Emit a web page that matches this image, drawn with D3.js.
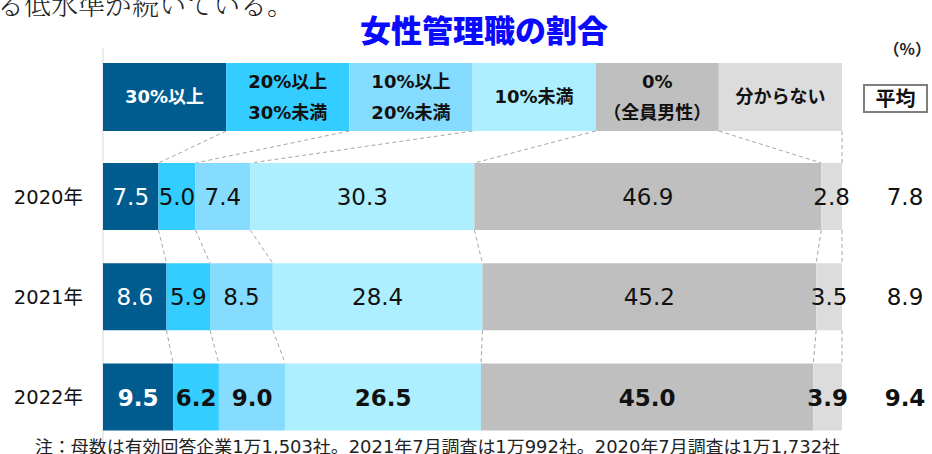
<!DOCTYPE html>
<html><head><meta charset="utf-8">
<script src="https://cdn.jsdelivr.net/npm/d3@7"></script>
<style>
html,body{margin:0;padding:0;background:#fff;}
svg{display:block;}
</style>
</head><body>
<svg id="chart" width="932" height="454"></svg>
<script>
const years = ["2020年", "2021年", "2022年"];
const categories = ["30%以上", "20%以上\n30%未満", "10%以上\n20%未満", "10%未満", "0%\n（全員男性）", "分からない"];
const values2020 = [7.5, 5.0, 7.4, 30.3, 46.9, 2.8];
const values2021 = [8.6, 5.9, 8.5, 28.4, 45.2, 3.5];
const values2022 = [9.5, 6.2, 9.0, 26.5, 45.0, 3.9];
const averages = [7.8, 8.9, 9.4];
const colors = ["#005b8e", "#33cdff", "#86dcfe", "#aeefff", "#bfbfbf", "#dcdcdc"];
const title = "女性管理職の割合";
const note = "注：母数は有効回答企業1万1,503社。2021年7月調査は1万992社。2020年7月調査は1万1,732社";
const topText = "る低水準が続いている。";

const rows = [values2020, values2021, values2022];
const svg = d3.select("#chart");
const font = "'DejaVu Sans','Noto Sans CJK JP',sans-serif";
const jfont = "'Noto Sans CJK JP','DejaVu Sans',sans-serif";

const x = d3.scaleLinear().domain([0, 100]).range([103, 842]);
const y = d3.scalePoint().domain(years).range([196.5, 397]);
const barH = 67;
const hx = d3.scaleBand().domain(categories).range([103, 842]);
const hTop = 63, hBot = 131;

// top cropped document text
svg.append("text").attr("x", -3).attr("y", 15).attr("font-family", "'Noto Serif CJK JP','DejaVu Serif',serif")
  .attr("font-size", 27).attr("fill", "#222").attr("font-weight", 300).text(topText);

// title
svg.append("text").attr("x", 484).attr("y", 42).attr("text-anchor", "middle")
  .attr("font-family", jfont).attr("font-weight", "900").attr("font-size", 31).attr("fill", "#0a0aff").text(title);

// (%)
svg.append("text").attr("x", 931).attr("y", 55).attr("text-anchor", "end")
  .attr("font-family", jfont).attr("font-weight", "bold").attr("font-size", 16).attr("fill", "#222").text("（%）");

// axis line
svg.append("line").attr("x1", 103).attr("x2", 103).attr("y1", 48).attr("y2", 454).attr("stroke", "#d9d9d9").attr("stroke-width", 1);

// header legend bar
const hg = svg.append("g");
categories.forEach((c, i) => {
  hg.append("rect").attr("x", hx(c)).attr("y", hTop).attr("width", hx.bandwidth()).attr("height", hBot - hTop).attr("fill", colors[i]);
  const lines = c.split("\n");
  const t = hg.append("text").attr("text-anchor", "middle").attr("font-family", font).attr("font-weight", "bold")
    .attr("font-size", 18).attr("fill", i === 0 ? "#fff" : "#111");
  const cx = hx(c) + hx.bandwidth() / 2;
  const cy = (hTop + hBot) / 2;
  lines.forEach((l, k) => {
    const off = (k - (lines.length - 1) / 2) * 31;
    t.append("tspan").attr("x", cx).attr("y", cy + off + 6).text(l);
  });
});

// 平均 box
svg.append("rect").attr("x", 864).attr("y", 85).attr("width", 63).attr("height", 27).attr("fill", "#fff").attr("stroke", "#7f7f7f").attr("stroke-width", 2);
svg.append("text").attr("x", 895.5).attr("y", 106).attr("text-anchor", "middle").attr("font-family", jfont).attr("font-weight", "bold").attr("font-size", 20).attr("fill", "#111").text("平均");

// cumulative boundaries
function bounds(vals) {
  const s = d3.sum(vals);
  let acc = 0;
  return vals.map(v => { const a = acc; acc += v; return [x(a / s * 100), x(acc / s * 100)]; });
}

// connectors
const conn = svg.append("g").attr("stroke", "#a6a6a6").attr("stroke-width", 1).attr("stroke-dasharray", "4,3").attr("fill", "none");
const headerB = categories.map(c => hx(c) + hx.bandwidth());
let prevB = headerB, prevY = hBot;
rows.forEach((vals, r) => {
  const b = bounds(vals).map(d => d[1]);
  const topY = y(years[r]) - barH / 2;
  b.forEach((bx, i) => {
    conn.append("line").attr("x1", prevB[i]).attr("y1", prevY).attr("x2", bx).attr("y2", topY);
  });
  prevB = b; prevY = topY + barH;
});

// bars
rows.forEach((vals, r) => {
  const g = svg.append("g");
  const b = bounds(vals);
  const cy = y(years[r]);
  const bold = r === rows.length - 1;
  vals.forEach((v, i) => {
    g.append("rect").attr("x", b[i][0]).attr("y", cy - barH / 2).attr("width", b[i][1] - b[i][0]).attr("height", barH).attr("fill", colors[i]);
  });
  vals.forEach((v, i) => {
    g.append("text").attr("x", (b[i][0] + b[i][1]) / 2).attr("y", cy + 8.5).attr("text-anchor", "middle")
      .attr("font-family", font).attr("font-size", 23).attr("font-weight", bold ? "bold" : "normal")
      .attr("fill", i === 0 ? "#fff" : "#111").text(v.toFixed(1));
  });
  svg.append("text").attr("x", 83).attr("y", cy + 7).attr("text-anchor", "end").attr("font-family", font)
    .attr("font-size", 19.5).attr("fill", "#111").text(years[r]);
  svg.append("text").attr("x", 905).attr("y", cy + 8.5).attr("text-anchor", "middle").attr("font-family", font)
    .attr("font-size", 23).attr("font-weight", bold ? "bold" : "normal").attr("fill", "#111").text(averages[r].toFixed(1));
});

// footnote
svg.append("text").attr("x", 35).attr("y", 453).attr("font-family", font).attr("font-size", 17.5).attr("fill", "#222")
  .attr("textLength", 805).attr("lengthAdjust", "spacingAndGlyphs").text(note);
</script>
</body></html>
